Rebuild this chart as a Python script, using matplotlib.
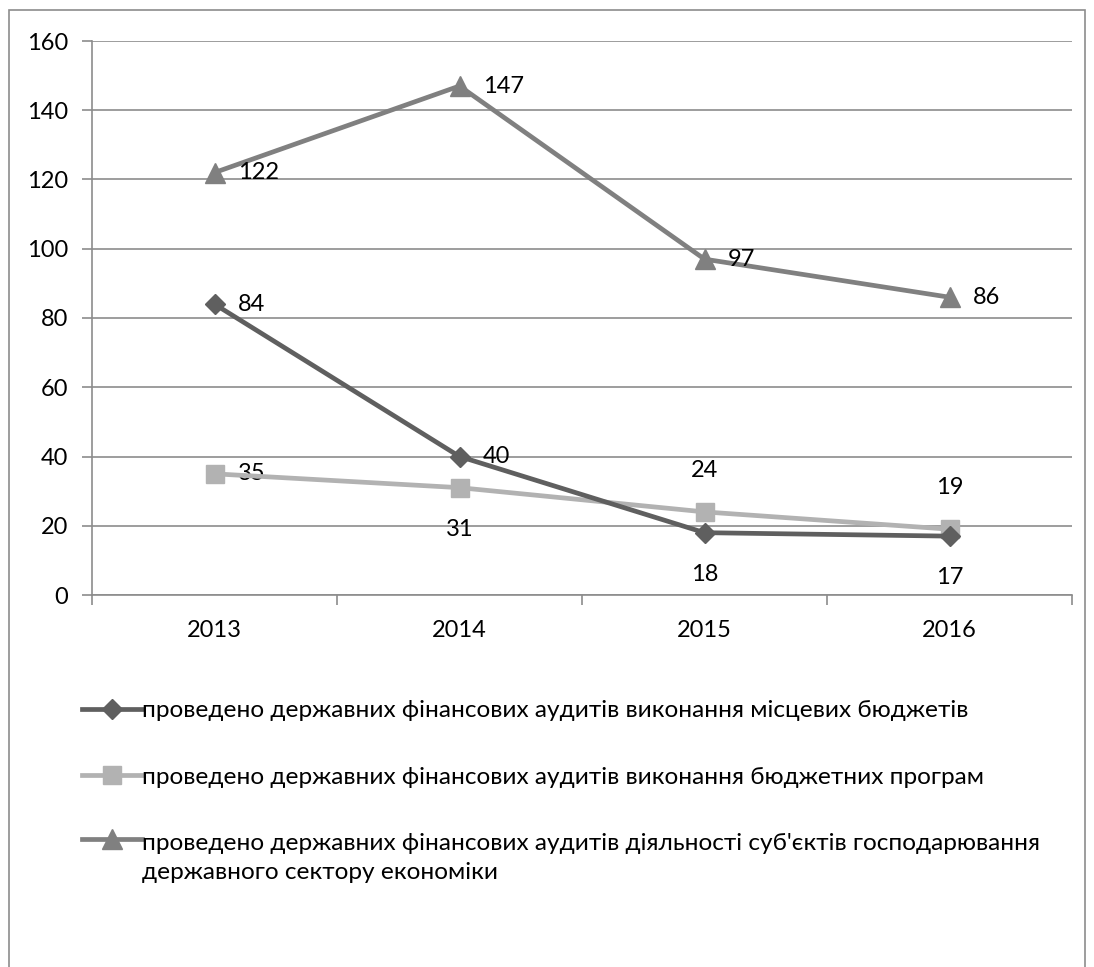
import matplotlib
matplotlib.use("Agg")
import matplotlib.pyplot as plt
from matplotlib.patches import Rectangle
from matplotlib.legend_handler import HandlerLine2D

years = ["2013", "2014", "2015", "2016"]
local_budgets = [84, 40, 18, 17]
budget_programs = [35, 31, 24, 19]
state_sector = [122, 147, 97, 86]

labels = [
    "проведено державних фінансових аудитів виконання місцевих бюджетів",
    "проведено державних фінансових аудитів виконання бюджетних програм",
    "проведено державних фінансових аудитів діяльності суб'єктів господарювання\nдержавного сектору економіки",
]
yticks = [0, 20, 40, 60, 80, 100, 120, 140, 160]

plt.rcParams['font.family'] = ['Lato', 'DejaVu Sans']
FS = 17
LFS = 17.6

fig = plt.figure(figsize=(10.94, 9.67), dpi=100)
fig.patches.append(Rectangle((9/1094, -0.05), (1085-9)/1094, (1-10/967) + 0.05,
                             transform=fig.transFigure, fill=False,
                             edgecolor='#8c8c8c', lw=1.2, clip_on=False))

ax = fig.add_axes([92/1094, 1-595/967, (1072-92)/1094, (595-41)/967])
x = list(range(len(years)))

c1, c2, c3 = '#5f5f5f', '#b2b2b2', '#808080'
l1, = ax.plot(x, local_budgets, color=c1, lw=3.4, marker='D', ms=10, zorder=5)
l2, = ax.plot(x, budget_programs, color=c2, lw=3.4, marker='s', ms=13, zorder=4)
l3, = ax.plot(x, state_sector, color=c3, lw=3.4, marker='^', ms=14, zorder=3)

ax.set_xlim(-0.5, len(years) - 0.5)
ax.set_ylim(0, 160)
ax.set_yticks(yticks)
ax.set_yticklabels([str(v) for v in yticks], fontsize=FS)
ax.yaxis.grid(True, color='#8c8c8c', lw=1.2)
ax.set_axisbelow(True)
ax.set_xticks([i - 0.5 for i in range(len(years) + 1)])
ax.set_xticklabels([])
ax.set_xticks(x, minor=True)
ax.set_xticklabels(years, minor=True, fontsize=FS)
ax.tick_params(axis='x', which='minor', length=0, pad=18)
ax.tick_params(axis='x', which='major', length=7, color='#8c8c8c', width=1.2, direction='out')
ax.tick_params(axis='y', length=7, color='#8c8c8c', width=1.2, pad=10)
for s in ['top', 'right']:
    ax.spines[s].set_visible(False)
for s in ['left', 'bottom']:
    ax.spines[s].set_color('#8c8c8c')
    ax.spines[s].set_linewidth(1.2)

def lab(xi, yi, pos):
    if pos == 'right':
        ax.annotate(str(yi), (xi, yi), xytext=(17, 0), textcoords='offset points',
                    ha='left', va='center', fontsize=FS)
    elif pos == 'below':
        ax.annotate(str(yi), (xi, yi), xytext=(0, -30), textcoords='offset points',
                    ha='center', va='center', fontsize=FS)
    else:
        ax.annotate(str(yi), (xi, yi), xytext=(0, 30), textcoords='offset points',
                    ha='center', va='center', fontsize=FS)

for xi, yi, p in zip(x, local_budgets, ['right', 'right', 'below', 'below']):
    lab(xi, yi, p)
for xi, yi, p in zip(x, budget_programs, ['right', 'below', 'above', 'above']):
    lab(xi, yi, p)
for xi, yi in zip(x, state_sector):
    lab(xi, yi, 'right')


class FirstLineHandler(HandlerLine2D):
    """Align the legend handle with the first line of a two-line label."""
    def __init__(self, shift, **kw):
        super().__init__(**kw)
        self.shift = shift

    def create_artists(self, legend, orig_handle, xdescent, ydescent,
                       width, height, fontsize, trans):
        arts = super().create_artists(legend, orig_handle, xdescent, ydescent,
                                      width, height, fontsize, trans)
        for a in arts:
            a.set_ydata([y + self.shift for y in a.get_ydata()])
        return arts


leg = fig.legend([l1, l2, l3], labels, loc='upper left',
                 bbox_to_anchor=(70/1094, 1-688/967), frameon=False, fontsize=LFS,
                 handlelength=2.45, handletextpad=0.0, labelspacing=1.85, borderpad=0,
                 handler_map={l3: FirstLineHandler(shift=14)})
for t in leg.get_texts():
    t.set_linespacing(1.5)

fig.savefig("out.png", dpi=100)
